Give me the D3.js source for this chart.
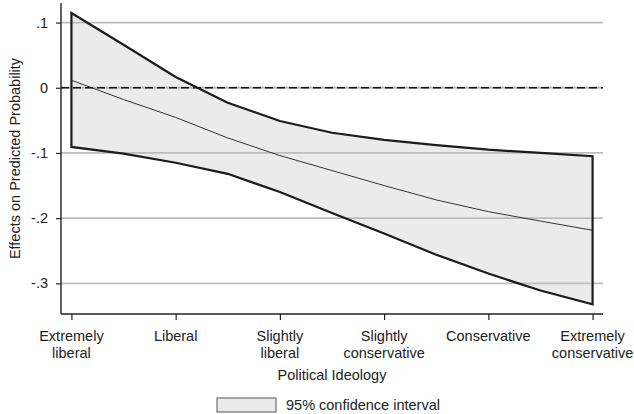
<!DOCTYPE html>
<html>
<head>
<meta charset="utf-8">
<script src="https://cdn.jsdelivr.net/npm/d3@7"></script>
<style>
  html, body { margin: 0; padding: 0; background: #fff; }
  svg { display: block; font-family: "Liberation Sans", Arial, Helvetica, sans-serif; }
</style>
</head>
<body>
<svg id="chart" width="634" height="414"></svg>
<script>
// Ideology levels (1 = extremely liberal ... 6 = extremely conservative)
const categories = [
  ["Extremely", "liberal"],
  ["Liberal"],
  ["Slightly", "liberal"],
  ["Slightly", "conservative"],
  ["Conservative"],
  ["Extremely", "conservative"]
];
// Evaluation points along the ideology scale
const ideology = [1, 1.5, 2, 2.5, 3, 3.5, 4, 4.5, 5, 5.5, 6];
// Marginal effect and its 95% confidence bounds
const effect = [0.0115, -0.018, -0.0455, -0.077, -0.104, -0.127, -0.150, -0.172, -0.190, -0.2045, -0.2186];
const upper  = [0.1147, 0.066, 0.0165, -0.023, -0.051, -0.069, -0.080, -0.088, -0.095, -0.100, -0.105];
const lower  = [-0.0908, -0.101, -0.115, -0.132, -0.160, -0.192, -0.2235, -0.256, -0.285, -0.311, -0.332];
const yTicks = [0.1, 0, -0.1, -0.2, -0.3];
const yTickLabels = [".1", "0", "-.1", "-.2", "-.3"];

const svg = d3.select("#chart");
const plot = { left: 61, right: 603, top: 3, bottom: 314 };

const x = d3.scaleLinear().domain([0.9, 6.1]).range([plot.left, plot.right]);
const y = d3.scaleLinear().domain([-0.347, 0.13]).range([plot.bottom, plot.top]);

const pts = ideology.map((v, i) => ({ v, m: effect[i], hi: upper[i], lo: lower[i] }));

// Confidence band fill
const area = d3.area().x(d => x(d.v)).y0(d => y(d.lo)).y1(d => y(d.hi));
svg.append("path").datum(pts)
  .attr("d", area)
  .attr("fill", "#ebebeb");

// Horizontal grid lines
svg.append("g").selectAll("line").data(yTicks).join("line")
  .attr("x1", plot.left).attr("x2", plot.right)
  .attr("y1", d => y(d)).attr("y2", d => y(d))
  .attr("stroke", "#bcbcbc").attr("stroke-width", 1.8);

// Reference line at zero
svg.append("line")
  .attr("x1", plot.left).attr("x2", plot.right)
  .attr("y1", y(0)).attr("y2", y(0))
  .attr("stroke", "#111").attr("stroke-width", 1.3)
  .attr("stroke-dasharray", "8,4");

// Band outline: upper bound, right edge, lower bound, left edge
const outline = pts.map(d => [x(d.v), y(d.hi)])
  .concat(pts.slice().reverse().map(d => [x(d.v), y(d.lo)]));
svg.append("path")
  .attr("d", d3.line()(outline) + "Z")
  .attr("fill", "none")
  .attr("stroke", "#1c1c1c").attr("stroke-width", 2.2)
  .attr("stroke-linejoin", "miter");

// Point estimate
svg.append("path").datum(pts)
  .attr("d", d3.line().x(d => x(d.v)).y(d => y(d.m)))
  .attr("fill", "none")
  .attr("stroke", "#333").attr("stroke-width", 1);

// Y axis
const yAxis = d3.axisLeft(y).tickValues(yTicks)
  .tickFormat((d, i) => yTickLabels[i]).tickSize(5).tickPadding(8);
const gy = svg.append("g").attr("transform", `translate(${plot.left},0)`).call(yAxis);
gy.select(".domain").attr("d", `M0,${plot.top}V${plot.bottom}`)
  .attr("stroke", "#222").attr("stroke-width", 1.4);
gy.selectAll(".tick line").attr("stroke", "#222").attr("stroke-width", 1.2);
gy.selectAll(".tick text").attr("font-size", "14.5px").attr("fill", "#222")
  .attr("font-family", "Liberation Sans, Arial, sans-serif");

// X axis
const xAxis = d3.axisBottom(x).tickValues([1, 2, 3, 4, 5, 6]).tickSize(6).tickFormat("");
const gx = svg.append("g").attr("transform", `translate(0,${plot.bottom})`).call(xAxis);
gx.select(".domain").attr("d", `M${plot.left},0H${plot.right}`)
  .attr("stroke", "#222").attr("stroke-width", 1.4);
gx.selectAll(".tick line").attr("stroke", "#222").attr("stroke-width", 1.2);

// Two-line category labels
const labels = svg.append("g").attr("font-size", "14.5px").attr("fill", "#222")
  .attr("text-anchor", "middle");
categories.forEach((lines, i) => {
  const t = labels.append("text").attr("x", x(i + 1)).attr("y", 341);
  lines.forEach((s, j) => {
    t.append("tspan").attr("x", x(i + 1)).attr("dy", j === 0 ? 0 : 16.5).text(s);
  });
});

// Axis titles
svg.append("text")
  .attr("x", (plot.left + plot.right) / 2).attr("y", 379.5)
  .attr("text-anchor", "middle").attr("font-size", "14.5px").attr("fill", "#222")
  .text("Political Ideology");

svg.append("text")
  .attr("transform", `translate(19.5,${(plot.top + plot.bottom) / 2}) rotate(-90)`)
  .attr("text-anchor", "middle").attr("font-size", "14.5px").attr("fill", "#222")
  .text("Effects on Predicted Probability");

// Legend
svg.append("rect")
  .attr("x", 217).attr("y", 398).attr("width", 59).attr("height", 14)
  .attr("fill", "#ebebeb").attr("stroke", "#555").attr("stroke-width", 1);
svg.append("text")
  .attr("x", 286).attr("y", 410)
  .attr("font-size", "14.5px").attr("fill", "#222")
  .text("95% confidence interval");
</script>
</body>
</html>
